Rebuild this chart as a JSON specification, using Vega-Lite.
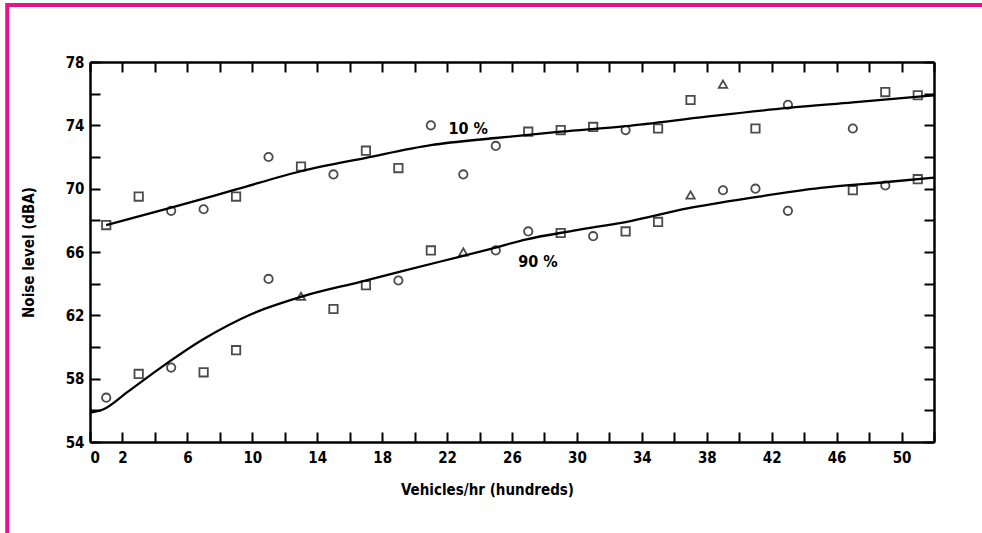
{
  "$schema": "https://vega.github.io/schema/vega-lite/v6.json",
  "autosize": "none",
  "width": 844,
  "height": 380,
  "padding": {"left": 90, "top": 62, "right": 48, "bottom": 91},
  "background": "white",
  "config": {
    "view": {"stroke": null},
    "font": "DejaVu Sans Condensed, Liberation Sans Narrow, DejaVu Sans, sans-serif",
    "axis": {
      "domainColor": "black",
      "domainWidth": 2.5,
      "tickColor": "black",
      "tickWidth": 2,
      "tickSize": -10,
      "grid": false,
      "labelColor": "black",
      "labelFontSize": 15,
      "labelFontWeight": "bold",
      "titleColor": "black",
      "titleFontSize": 15,
      "titleFontWeight": "bold"
    }
  },
  "datasets": {
    "frame": [{"x0": -5.1, "x1": 70, "y0": 40, "y1": 81.6}],
    "points": [
      {"flow": 1, "level": 67.7, "pct": "10%", "site": "B"},
      {"flow": 3, "level": 69.5, "pct": "10%", "site": "B"},
      {"flow": 5, "level": 68.6, "pct": "10%", "site": "A"},
      {"flow": 7, "level": 68.7, "pct": "10%", "site": "A"},
      {"flow": 9, "level": 69.5, "pct": "10%", "site": "B"},
      {"flow": 11, "level": 72.0, "pct": "10%", "site": "A"},
      {"flow": 13, "level": 71.4, "pct": "10%", "site": "B"},
      {"flow": 15, "level": 70.9, "pct": "10%", "site": "A"},
      {"flow": 17, "level": 72.4, "pct": "10%", "site": "B"},
      {"flow": 19, "level": 71.3, "pct": "10%", "site": "B"},
      {"flow": 21, "level": 74.0, "pct": "10%", "site": "A"},
      {"flow": 23, "level": 70.9, "pct": "10%", "site": "A"},
      {"flow": 25, "level": 72.7, "pct": "10%", "site": "A"},
      {"flow": 27, "level": 73.6, "pct": "10%", "site": "B"},
      {"flow": 29, "level": 73.7, "pct": "10%", "site": "B"},
      {"flow": 31, "level": 73.9, "pct": "10%", "site": "B"},
      {"flow": 33, "level": 73.7, "pct": "10%", "site": "A"},
      {"flow": 35, "level": 73.8, "pct": "10%", "site": "B"},
      {"flow": 37, "level": 75.6, "pct": "10%", "site": "B"},
      {"flow": 39, "level": 76.6, "pct": "10%", "site": "C"},
      {"flow": 41, "level": 73.8, "pct": "10%", "site": "B"},
      {"flow": 43, "level": 75.3, "pct": "10%", "site": "A"},
      {"flow": 47, "level": 73.8, "pct": "10%", "site": "A"},
      {"flow": 49, "level": 76.1, "pct": "10%", "site": "B"},
      {"flow": 51, "level": 75.9, "pct": "10%", "site": "B"},
      {"flow": 1, "level": 56.8, "pct": "90%", "site": "A"},
      {"flow": 3, "level": 58.3, "pct": "90%", "site": "B"},
      {"flow": 5, "level": 58.7, "pct": "90%", "site": "A"},
      {"flow": 7, "level": 58.4, "pct": "90%", "site": "B"},
      {"flow": 9, "level": 59.8, "pct": "90%", "site": "B"},
      {"flow": 11, "level": 64.3, "pct": "90%", "site": "A"},
      {"flow": 13, "level": 63.2, "pct": "90%", "site": "C"},
      {"flow": 15, "level": 62.4, "pct": "90%", "site": "B"},
      {"flow": 17, "level": 63.9, "pct": "90%", "site": "B"},
      {"flow": 19, "level": 64.2, "pct": "90%", "site": "A"},
      {"flow": 21, "level": 66.1, "pct": "90%", "site": "B"},
      {"flow": 23, "level": 66.0, "pct": "90%", "site": "C"},
      {"flow": 25, "level": 66.1, "pct": "90%", "site": "A"},
      {"flow": 27, "level": 67.3, "pct": "90%", "site": "A"},
      {"flow": 29, "level": 67.2, "pct": "90%", "site": "B"},
      {"flow": 31, "level": 67.0, "pct": "90%", "site": "A"},
      {"flow": 33, "level": 67.3, "pct": "90%", "site": "B"},
      {"flow": 35, "level": 67.9, "pct": "90%", "site": "B"},
      {"flow": 37, "level": 69.6, "pct": "90%", "site": "C"},
      {"flow": 39, "level": 69.9, "pct": "90%", "site": "A"},
      {"flow": 41, "level": 70.0, "pct": "90%", "site": "A"},
      {"flow": 43, "level": 68.6, "pct": "90%", "site": "A"},
      {"flow": 47, "level": 69.9, "pct": "90%", "site": "B"},
      {"flow": 49, "level": 70.2, "pct": "90%", "site": "A"},
      {"flow": 51, "level": 70.6, "pct": "90%", "site": "B"}
    ],
    "fits": [
      {"flow": 1, "level": 67.7, "pct": "10%"},
      {"flow": 5, "level": 68.8, "pct": "10%"},
      {"flow": 9, "level": 69.95, "pct": "10%"},
      {"flow": 13, "level": 71.1, "pct": "10%"},
      {"flow": 17, "level": 71.95, "pct": "10%"},
      {"flow": 21, "level": 72.75, "pct": "10%"},
      {"flow": 25, "level": 73.2, "pct": "10%"},
      {"flow": 29, "level": 73.6, "pct": "10%"},
      {"flow": 33, "level": 73.95, "pct": "10%"},
      {"flow": 38, "level": 74.55, "pct": "10%"},
      {"flow": 43, "level": 75.1, "pct": "10%"},
      {"flow": 47, "level": 75.45, "pct": "10%"},
      {"flow": 52, "level": 75.9, "pct": "10%"},
      {"flow": 0, "level": 55.85, "pct": "90%"},
      {"flow": 0.8, "level": 56.05, "pct": "90%"},
      {"flow": 2.3, "level": 57.15, "pct": "90%"},
      {"flow": 4.3, "level": 58.65, "pct": "90%"},
      {"flow": 7, "level": 60.5, "pct": "90%"},
      {"flow": 10, "level": 62.1, "pct": "90%"},
      {"flow": 13.1, "level": 63.2, "pct": "90%"},
      {"flow": 16.6, "level": 64.1, "pct": "90%"},
      {"flow": 21.6, "level": 65.4, "pct": "90%"},
      {"flow": 24.7, "level": 66.2, "pct": "90%"},
      {"flow": 26.9, "level": 66.8, "pct": "90%"},
      {"flow": 29.8, "level": 67.35, "pct": "90%"},
      {"flow": 33.3, "level": 67.95, "pct": "90%"},
      {"flow": 36.8, "level": 68.75, "pct": "90%"},
      {"flow": 40.9, "level": 69.45, "pct": "90%"},
      {"flow": 45, "level": 70.05, "pct": "90%"},
      {"flow": 49.1, "level": 70.42, "pct": "90%"},
      {"flow": 52, "level": 70.7, "pct": "90%"}
    ],
    "labels": [
      {"flow": 23.3, "level": 73.8, "text": "10 %"},
      {"flow": 27.6, "level": 65.35, "text": "90 %"}
    ]
  },
  "layer": [
    {
      "description": "Pink page border",
      "data": {"name": "frame"},
      "mark": {"type": "rect", "fill": null, "stroke": "#E8128A", "strokeWidth": 4, "clip": false},
      "encoding": {
        "x": {"field": "x0", "type": "quantitative", "scale": {"domain": [0, 52], "nice": false, "zero": false}, "axis": null},
        "x2": {"field": "x1"},
        "y": {"field": "y0", "type": "quantitative", "scale": {"domain": [54, 78], "nice": false, "zero": false}, "axis": null},
        "y2": {"field": "y1"}
      }
    },
    {
      "description": "Top and right tick frames",
      "data": {"name": "points"},
      "mark": {"type": "point", "opacity": 0},
      "encoding": {
        "x": {"field": "flow", "type": "quantitative", "scale": {"domain": [0, 52], "nice": false, "zero": false},
              "axis": {"orient": "top", "values": [0,2,4,6,8,10,12,14,16,18,20,22,24,26,28,30,32,34,36,38,40,42,44,46,48,50,52], "labels": false, "title": null}},
        "y": {"field": "level", "type": "quantitative", "scale": {"domain": [54, 78], "nice": false, "zero": false},
              "axis": {"orient": "right", "values": [54,56,58,60,62,64,66,68,70,72,74,76,78], "labels": false, "title": null}}
      }
    },
    {
      "description": "Fitted curves",
      "data": {"name": "fits"},
      "mark": {"type": "line", "color": "black", "strokeWidth": 2.3, "interpolate": "monotone"},
      "encoding": {
        "x": {"field": "flow", "type": "quantitative", "scale": {"domain": [0, 52], "nice": false, "zero": false}, "axis": null},
        "y": {"field": "level", "type": "quantitative", "scale": {"domain": [54, 78], "nice": false, "zero": false}, "axis": null},
        "detail": {"field": "pct"}
      }
    },
    {
      "description": "Measured percentile levels",
      "data": {"name": "points"},
      "mark": {"type": "point", "filled": false, "stroke": "black", "strokeWidth": 1.8, "size": 70},
      "encoding": {
        "x": {"field": "flow", "type": "quantitative", "scale": {"domain": [0, 52], "nice": false, "zero": false},
              "axis": {"orient": "bottom", "values": [0,2,4,6,8,10,12,14,16,18,20,22,24,26,28,30,32,34,36,38,40,42,44,46,48,50,52],
                       "labelExpr": "datum.value == 0 || datum.value % 4 == 2 ? datum.label : ''",
                       "labelPadding": 18, "title": "Vehicles/hr (hundreds)", "titleX": 397, "titlePadding": 17}},
        "y": {"field": "level", "type": "quantitative", "scale": {"domain": [54, 78], "nice": false, "zero": false},
              "axis": {"orient": "left", "values": [54,56,58,60,62,64,66,68,70,72,74,76,78],
                       "labelExpr": "datum.value % 4 == 2 ? datum.label : ''",
                       "labelPadding": 16, "title": "Noise level (dBA)", "titlePadding": 29}},
        "shape": {"field": "site", "type": "nominal", "scale": {"domain": ["A", "B", "C"], "range": ["circle", "square", "triangle-up"]}, "legend": null}
      }
    },
    {
      "description": "Curve labels",
      "data": {"name": "labels"},
      "mark": {"type": "text", "fontSize": 16, "fontWeight": "bold", "color": "black"},
      "encoding": {
        "x": {"field": "flow", "type": "quantitative", "scale": {"domain": [0, 52], "nice": false, "zero": false}, "axis": null},
        "y": {"field": "level", "type": "quantitative", "scale": {"domain": [54, 78], "nice": false, "zero": false}, "axis": null},
        "text": {"field": "text"}
      }
    }
  ],
  "resolve": {"axis": {"x": "independent", "y": "independent"}}
}
